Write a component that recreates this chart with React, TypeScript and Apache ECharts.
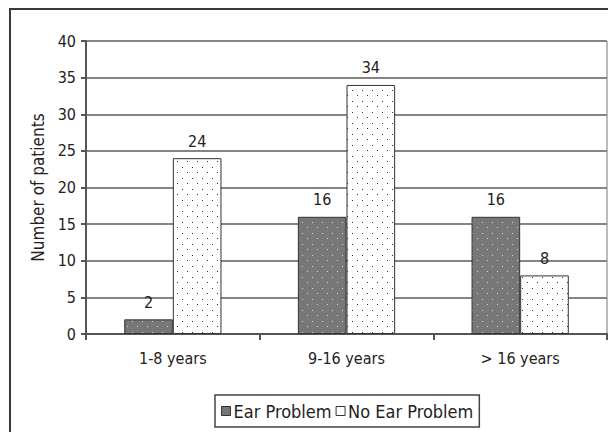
import React, { useEffect, useRef } from "react";
import * as echarts from "echarts";

const categories = ["1-8 years", "9-16 years", "> 16 years"];
const earProblem = [2, 16, 16];
const noEarProblem = [24, 34, 8];
const seriesNames = ["Ear Problem", "No Ear Problem"];
const yTicks = { min: 0, max: 40, interval: 5 };

function makePattern(bg: string, dot: string) {
  const c = document.createElement("canvas");
  c.width = 10;
  c.height = 11;
  const ctx = c.getContext("2d")!;
  ctx.fillStyle = bg;
  ctx.fillRect(0, 0, 10, 11);
  ctx.fillStyle = dot;
  ctx.fillRect(2, 2, 1, 1);
  ctx.fillRect(7, 7, 1, 1);
  return { image: c, repeat: "repeat" } as any;
}

export default function App() {
  const ref = useRef<HTMLDivElement>(null);
  useEffect(() => {
    const chart = echarts.init(ref.current!, undefined, { renderer: "svg" });
    const font = "'DejaVu Sans Condensed', 'DejaVu Sans'";
    chart.setOption({
      animation: false,
      backgroundColor: "#fff",
      textStyle: { fontFamily: font },
      graphic: [
        {
          type: "rect",
          shape: { x: 10, y: 9, width: 620, height: 440 },
          style: { fill: "none", stroke: "#3a3a3a", lineWidth: 2 },
          silent: true,
          z: -1,
        },
      ],
      legend: {
        left: 215,
        top: 395,
        itemWidth: 9,
        itemHeight: 9,
        itemGap: 4,
        padding: [7, 6, 7, 6],
        borderColor: "#444",
        borderWidth: 1.5,
        textStyle: { fontSize: 18, color: "#222", fontFamily: font, padding: [0, 0, 0, -2] },
        data: [
          { name: seriesNames[0], icon: "rect", itemStyle: { color: "#777", borderColor: "#333", borderWidth: 1 } },
          { name: seriesNames[1], icon: "rect", itemStyle: { color: "#fff", borderColor: "#333", borderWidth: 1 } },
        ],
      },
      grid: { left: 86, right: 1, top: 41, bottom: 98, show: true, borderColor: "#777", borderWidth: 1 },
      xAxis: {
        type: "category",
        data: categories,
        axisLine: { lineStyle: { color: "#555", width: 2 } },
        axisTick: { show: true, length: 6, lineStyle: { color: "#555", width: 2 } },
        axisLabel: { fontSize: 16, color: "#222", margin: 16, fontFamily: font },
      },
      yAxis: {
        type: "value",
        min: yTicks.min,
        max: yTicks.max,
        interval: yTicks.interval,
        name: "Number of patients",
        nameLocation: "middle",
        nameGap: 36,
        nameTextStyle: { fontSize: 17, color: "#222", fontFamily: font },
        axisLine: { show: true, lineStyle: { color: "#555", width: 2 } },
        axisTick: { show: true, length: 5, lineStyle: { color: "#555", width: 2 } },
        axisLabel: { fontSize: 16, color: "#222", margin: 10, fontFamily: font },
        splitLine: { lineStyle: { color: "#858585", width: 2 } },
      },
      series: [
        {
          name: seriesNames[0],
          type: "bar",
          data: earProblem,
          barGap: "0%",
          barCategoryGap: "44%",
          itemStyle: { color: makePattern("#777777", "#d8d8d8"), borderColor: "#333", borderWidth: 1 },
          label: { show: true, position: "top", distance: 9, fontSize: 16, color: "#222", fontFamily: font },
        },
        {
          name: seriesNames[1],
          type: "bar",
          data: noEarProblem,
          barGap: "0%",
          barCategoryGap: "44%",
          itemStyle: { color: makePattern("#ffffff", "#333333"), borderColor: "#333", borderWidth: 1 },
          label: { show: true, position: "top", distance: 9, fontSize: 16, color: "#222", fontFamily: font },
        },
      ],
    });
    return () => chart.dispose();
  }, []);
  return <div ref={ref} style={{ width: 608, height: 432, position: "absolute", left: 0, top: 0 }} />;
}
